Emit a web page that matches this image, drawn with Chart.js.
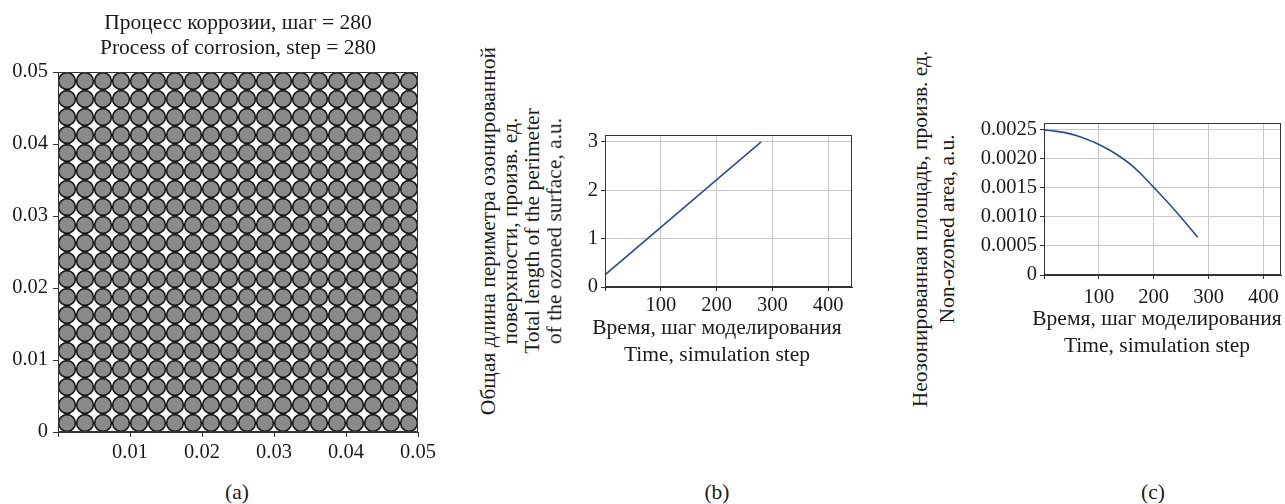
<!DOCTYPE html>
<html>
<head>
<meta charset="utf-8">
<script src="https://cdn.jsdelivr.net/npm/chart.js@4.4.0/dist/chart.umd.min.js"></script>
<style>
  html, body { margin:0; padding:0; background:#fff; width:1285px; height:504px; overflow:hidden; }
  .c { position:absolute; }
  .t { position:absolute; font-family:'Liberation Serif','Times New Roman',serif; font-size:21.5px; color:#1a1a1a; white-space:nowrap; transform:translate(-50%,-50%); line-height:1; }
  .r { transform:translate(-50%,-50%) rotate(-90deg); }
</style>
</head>
<body>
<canvas id="ca" class="c" width="450" height="470" style="left:0;top:0;width:450px;height:470px"></canvas>
<canvas id="cb" class="c" width="310" height="220" style="left:560px;top:100px;width:310px;height:220px"></canvas>
<canvas id="cc" class="c" width="305" height="220" style="left:980px;top:90px;width:305px;height:220px"></canvas>

<div class="t" style="left:238px;top:23px">Процесс коррозии, шаг = 280</div>
<div class="t" style="left:238px;top:48px">Process of corrosion, step = 280</div>
<div class="t" style="left:237px;top:493px">(a)</div>

<div class="t r" style="left:489px;top:231px">Общая длина периметра озонированной</div>
<div class="t r" style="left:511px;top:231px">поверхности, произв. ед.</div>
<div class="t r" style="left:533px;top:231px">Total length of the perimeter</div>
<div class="t r" style="left:555px;top:231px">of the ozoned surface, a.u.</div>
<div class="t" style="left:717px;top:328px">Время, шаг моделирования</div>
<div class="t" style="left:717px;top:355px">Time, simulation step</div>
<div class="t" style="left:717px;top:493px">(b)</div>

<div class="t r" style="left:921px;top:229px">Неозонированная площадь, произв. ед.</div>
<div class="t r" style="left:948px;top:229px">Non-ozoned area, a.u.</div>
<div class="t" style="left:1157px;top:319px">Время, шаг моделирования</div>
<div class="t" style="left:1157px;top:346px">Time, simulation step</div>
<div class="t" style="left:1153px;top:493px">(c)</div>

<script>
// ---------- data ----------
// panel (a): centres of the particle grid (same along x and y)
const gridCentres = [0.00125,0.00375,0.00625,0.00875,0.01125,0.01375,0.01625,0.01875,0.02125,0.02375,
                     0.02625,0.02875,0.03125,0.03375,0.03625,0.03875,0.04125,0.04375,0.04625,0.04875];
const aXTicks = [0, 0.01, 0.02, 0.03, 0.04, 0.05];
const aYTicks = [0, 0.01, 0.02, 0.03, 0.04, 0.05];

// panel (b): perimeter length vs step
const bSteps = [0, 280];
const bPerimeter = [0.25, 3.0];
const bXTicks = [0, 100, 200, 300, 400];
const bYTicks = [0, 1, 2, 3];

// panel (c): non-ozoned area vs step
const cSteps = [0, 20, 40, 60, 80, 100, 120, 140, 160, 180, 200, 220, 240, 260, 280];
const cArea  = [0.00250, 0.00248, 0.00245, 0.00240, 0.00233, 0.00225, 0.00215, 0.00203, 0.00189, 0.00171,
                0.00151, 0.00131, 0.00110, 0.00088, 0.00065];
const cXTicks = [0, 100, 200, 300, 400];
const cYTicks = [0, 0.0005, 0.0010, 0.0015, 0.0020, 0.0025];

// ---------- common ----------
Chart.defaults.font.family = "'Liberation Serif','Times New Roman',serif";
Chart.defaults.font.size = 20.5;
Chart.defaults.color = '#1a1a1a';
Chart.defaults.animation = false;

const frame = {
  id: 'frame',
  afterDraw(chart) {
    const a = chart.chartArea, ctx = chart.ctx;
    ctx.save();
    ctx.strokeStyle = '#333';
    ctx.lineWidth = 1;
    ctx.strokeRect(Math.round(a.left) + 0.5, Math.round(a.top) + 0.5,
                   Math.round(a.right - a.left) - 1, Math.round(a.bottom - a.top) - 1);
    ctx.restore();
  }
};

function setTicks(arr) { return s => { s.ticks = arr.map(v => ({ value: v })); }; }

function axis(opts) {
  return {
    type: 'linear',
    min: opts.min, max: opts.max,
    border: { display: true, color: '#333', width: 1 },
    grid: { display: true, drawOnChartArea: opts.gridOn, color: '#c9c9c9', lineWidth: 1, tickColor: '#333', tickLength: opts.tl },
    ticks: { padding: opts.pad, maxRotation: 0, autoSkip: false, callback: opts.fmt, color: '#1a1a1a' },
    afterBuildTicks: setTicks(opts.ticks),
    afterFit: opts.fit
  };
}

// ---------- panel (a) ----------
const aPoints = [];
for (const y of gridCentres) for (const x of gridCentres) aPoints.push({ x, y });

new Chart(document.getElementById('ca'), {
  type: 'scatter',
  data: { datasets: [{ data: aPoints, pointRadius: 8.4, pointHoverRadius: 8.4,
                       backgroundColor: '#8a8a8a', borderColor: '#1a1a1a', borderWidth: 1.6 }] },
  options: {
    responsive: false, events: [],
    layout: { padding: { top: 72, left: 0, right: 32, bottom: 0 } },
    plugins: { legend: { display: false }, tooltip: { enabled: false } },
    scales: {
      x: axis({ min: 0, max: 0.05, ticks: aXTicks, gridOn: false, tl: 5, pad: 3,
                fmt: v => v === 0 ? '' : v.toFixed(2), fit: s => { s.height = 38; } }),
      y: axis({ min: 0, max: 0.05, ticks: aYTicks, gridOn: false, tl: 5, pad: 5,
                fmt: v => v === 0 ? '0' : v.toFixed(2), fit: s => { s.width = 58; } })
    }
  },
  plugins: [frame]
});

// ---------- panel (b) ----------
new Chart(document.getElementById('cb'), {
  type: 'line',
  data: { datasets: [{ data: bSteps.map((x, i) => ({ x, y: bPerimeter[i] })),
                       borderColor: '#2c4c96', borderWidth: 1.6, pointRadius: 0, fill: false }] },
  options: {
    responsive: false, events: [],
    layout: { padding: { top: 35, left: 0, right: 18, bottom: 0 } },
    plugins: { legend: { display: false }, tooltip: { enabled: false } },
    scales: {
      x: axis({ min: 0, max: 443, ticks: bXTicks, gridOn: true, tl: 4, pad: 2,
                fmt: v => v === 0 ? '' : String(v), fit: s => { s.height = 33; } }),
      y: axis({ min: 0, max: 3.14, ticks: bYTicks, gridOn: true, tl: 4, pad: 3,
                fmt: v => String(v), fit: s => { s.width = 45; } })
    }
  },
  plugins: [frame]
});

// ---------- panel (c) ----------
new Chart(document.getElementById('cc'), {
  type: 'line',
  data: { datasets: [{ data: cSteps.map((x, i) => ({ x, y: cArea[i] })),
                       borderColor: '#2c4c96', borderWidth: 1.6, pointRadius: 0, fill: false,
                       cubicInterpolationMode: 'monotone' }] },
  options: {
    responsive: false, events: [],
    layout: { padding: { top: 33, left: 0, right: 2, bottom: 0 } },
    plugins: { legend: { display: false }, tooltip: { enabled: false } },
    scales: {
      x: axis({ min: 0, max: 432, ticks: cXTicks, gridOn: true, tl: 4, pad: 6,
                fmt: v => v === 0 ? '' : String(v), fit: s => { s.height = 35; } }),
      y: axis({ min: 0, max: 0.00262, ticks: cYTicks, gridOn: true, tl: 4, pad: 3,
                fmt: v => v === 0 ? '0' : v.toFixed(4), fit: s => { s.width = 64; } })
    }
  },
  plugins: [frame]
});
</script>
</body>
</html>
